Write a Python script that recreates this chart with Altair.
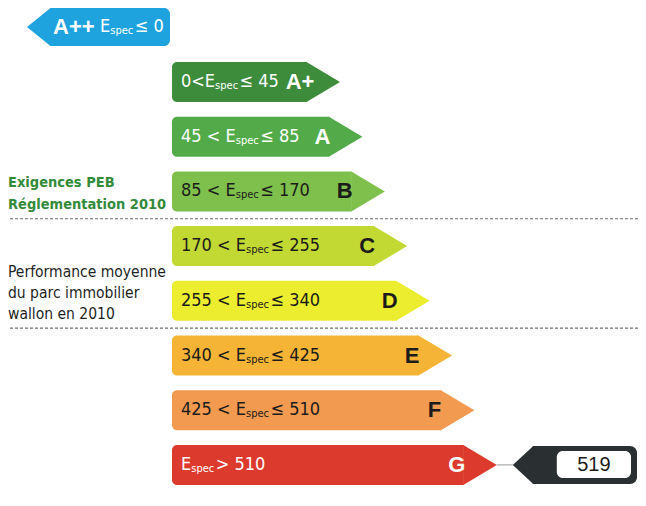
import altair as alt
import pandas as pd

# ---------------- data ----------------
classes = ["A+", "A", "B", "C", "D", "E", "F", "G"]
lower = [0, 45, 85, 170, 255, 340, 425, 510]
upper = [45, 85, 170, 255, 340, 425, 510, None]
fills = ["#3c8c3b", "#52ab48", "#7fc04c", "#c3d933", "#eced2e", "#f5b436", "#f19a50", "#dc3a2d"]
label_colors = ["#ffffff", "#ffffff", "#1b1b1b", "#1b1b1b", "#1b1b1b", "#1b1b1b", "#1b1b1b", "#ffffff"]
top_class = "A++"
top_bound = 0
top_fill = "#1ea3df"
result_value = 519
result_class = "G"
note_green = ["Exigences PEB", "Réglementation 2010"]
note_dark = ["Performance moyenne", "du parc immobilier", "wallon en 2010"]

# ---------------- layout (pixels) ----------------
W, H = 630, 490
LEFT = 172
ROW0, PITCH, BH = 62, 54.7, 40
TIP0, TIPSTEP, TIPLEN = 340, 22.4, 33
FONT_N = "DejaVu Sans Condensed, sans-serif"
FONT_B = "Liberation Sans, Arial, sans-serif"
MAIN, SUB = 18, 11

# DejaVu Sans advance widths (units/2048), condensed ~ 0.9
DW = {' ': 651, '<': 1716, '>': 1716, 'E': 1294, '\u2264': 1716, 's': 1067, 'p': 1300, 'e': 1260, 'c': 1126}
for d in "0123456789":
    DW[d] = 1303


def tw(s, size):
    return sum(DW.get(ch, 1300) for ch in s) / 2048 * 0.9 * size


rows = []
for i, c in enumerate(classes):
    top = ROW0 + PITCH * i
    tip = TIP0 + TIPSTEP * i
    if i == 0:
        pre, post = f"{lower[i]}<E", f"\u2264 {upper[i]}"
    elif upper[i] is None:
        pre, post = "E", f"> {lower[i]}"
    else:
        pre, post = f"{lower[i]} < E", f"\u2264 {upper[i]}"
    x0 = LEFT + 9
    xs = x0 + tw(pre, MAIN)
    xp = xs + tw("spec", SUB) + 1.5
    rows.append(dict(cls=c, top=top, bot=top + BH, mid=top + BH / 2, tip=tip, body=tip - TIPLEN,
                     fill=fills[i], tcol=label_colors[i], pre=pre, post=post,
                     x0=x0, xs=xs, xp=xp, xl=tip - 40))
df = pd.DataFrame(rows)

X = lambda f: alt.X(f, type="quantitative", scale=alt.Scale(domain=[0, W]), axis=None)
Y = lambda f: alt.Y(f, type="quantitative", scale=alt.Scale(domain=[0, H], reverse=True), axis=None)
off = 8  # page margin -> data coordinates are page pixels minus 8

df_s = df.copy()
for col in ["top", "bot", "mid", "tip", "body", "x0", "xs", "xp", "xl"]:
    df_s[col] = df_s[col] - off
df_s["left"] = LEFT - off

# tips as areas
tip_pts = []
for r in df_s.itertuples():
    tip_pts.append(dict(cls=r.cls, x=r.body - 0.5, y=r.top, y2=r.bot, fill=r.fill))
    tip_pts.append(dict(cls=r.cls, x=r.tip, y=r.mid, y2=r.mid, fill=r.fill))
tips = pd.DataFrame(tip_pts)

bodies = alt.Chart(df_s).mark_rect(cornerRadiusTopLeft=5, cornerRadiusBottomLeft=5).encode(
    x=X("left"), x2="body", y=Y("top"), y2="bot", fill=alt.Fill("fill:N", scale=None))
tipl = alt.Chart(tips).mark_area(orient="vertical").encode(
    x=X("x"), y=Y("y"), y2="y2", detail="cls:N", fill=alt.Fill("fill:N", scale=None))

t_pre = alt.Chart(df_s).mark_text(font=FONT_N, fontSize=MAIN, align="left", baseline="middle").encode(
    x=X("x0"), y=Y("mid"), text="pre:N", color=alt.Color("tcol:N", scale=None))
t_sub = alt.Chart(df_s).mark_text(font=FONT_N, fontSize=SUB, align="left", baseline="middle", dy=4).encode(
    x=X("xs"), y=Y("mid"), text=alt.value("spec"), color=alt.Color("tcol:N", scale=None))
t_post = alt.Chart(df_s).mark_text(font=FONT_N, fontSize=MAIN, align="left", baseline="middle").encode(
    x=X("xp"), y=Y("mid"), text="post:N", color=alt.Color("tcol:N", scale=None))
t_cls = alt.Chart(df_s).mark_text(font=FONT_B, fontSize=22, fontWeight="bold", align="center",
                                  baseline="middle").encode(
    x=X("xl"), y=Y("mid"), text="cls:N", color=alt.Color("tcol:N", scale=None))

# dashed separators (between B/C and D/E)
sep = pd.DataFrame({"y": [(df.bot[2] + df.top[3]) / 2 - off, (df.bot[4] + df.top[5]) / 2 - off],
                    "x": [5 - off] * 2, "x2": [638 - off] * 2})
seps = alt.Chart(sep).mark_rule(color="#6f6f6f", strokeDash=[3, 2], strokeWidth=1.2).encode(
    x=X("x"), x2="x2", y=Y("y"))

# A++ left-pointing arrow
app_top, app_bot = 8 - off, 46 - off
app_mid = (app_top + app_bot) / 2
app_tip, app_body, app_end = 27 - off, 50 - off, 170 - off
app_area = pd.DataFrame({"x": [app_tip, app_body + 0.5], "y": [app_mid, app_top], "y2": [app_mid, app_bot]})
app_rect = pd.DataFrame({"x": [app_body], "x2": [app_end], "y": [app_top], "y2": [app_bot]})
a1 = alt.Chart(app_area).mark_area(orient="vertical", color=top_fill).encode(x=X("x"), y=Y("y"), y2="y2")
a2 = alt.Chart(app_rect).mark_rect(color=top_fill, cornerRadiusTopRight=6, cornerRadiusBottomRight=6).encode(
    x=X("x"), x2="x2", y=Y("y"), y2="y2")
app_txt = pd.DataFrame({"x": [53 - off], "y": [app_mid], "t": [top_class]})
a3 = alt.Chart(app_txt).mark_text(font=FONT_B, fontSize=22, fontWeight="bold", align="left",
                                  baseline="middle", color="white").encode(x=X("x"), y=Y("y"), text="t:N")
ax0 = 100 - off
app_t2 = pd.DataFrame({"x": [ax0, ax0 + tw("E", MAIN), ax0 + tw("E", MAIN) + tw("spec", SUB) + 1.5],
                       "y": [app_mid] * 3, "t": ["E", "spec", f"\u2264 {top_bound}"]})
a4 = alt.Chart(app_t2[app_t2.t != "spec"]).mark_text(font=FONT_N, fontSize=MAIN, align="left",
                                                      baseline="middle", color="white").encode(
    x=X("x"), y=Y("y"), text="t:N")
a5 = alt.Chart(app_t2[app_t2.t == "spec"]).mark_text(font=FONT_N, fontSize=SUB, align="left",
                                                      baseline="middle", dy=4, color="white").encode(
    x=X("x"), y=Y("y"), text="t:N")

# result indicator
g = df_s[df_s.cls == result_class].iloc[0]
ind_tip, ind_body, ind_end = g.tip + 16, g.tip + 36, W - 1
ind_top, ind_bot = g.top + 1, g.bot - 1
conn = pd.DataFrame({"x": [g.tip], "x2": [ind_tip], "y": [g.mid]})
i1 = alt.Chart(conn).mark_rule(color="#9a9a9a", strokeWidth=1).encode(x=X("x"), x2="x2", y=Y("y"))
ind_area = pd.DataFrame({"x": [ind_tip, ind_body + 0.5], "y": [g.mid, ind_top], "y2": [g.mid, ind_bot]})
i2 = alt.Chart(ind_area).mark_area(orient="vertical", color="#2a2f31").encode(x=X("x"), y=Y("y"), y2="y2")
ind_rect = pd.DataFrame({"x": [ind_body], "x2": [ind_end], "y": [ind_top], "y2": [ind_bot]})
i3 = alt.Chart(ind_rect).mark_rect(color="#2a2f31", cornerRadiusTopRight=7, cornerRadiusBottomRight=7).encode(
    x=X("x"), x2="x2", y=Y("y"), y2="y2")
box = pd.DataFrame({"x": [ind_body + 24], "x2": [ind_end - 6], "y": [ind_top + 5], "y2": [ind_bot - 6]})
i4 = alt.Chart(box).mark_rect(color="white", cornerRadius=6).encode(x=X("x"), x2="x2", y=Y("y"), y2="y2")
val = pd.DataFrame({"x": [(ind_body + 24 + ind_end - 6) / 2], "y": [g.mid], "t": [str(result_value)]})
i5 = alt.Chart(val).mark_text(font=FONT_B, fontSize=20, align="center", baseline="middle", color="#1b1b1b").encode(
    x=X("x"), y=Y("y"), text="t:N")

# side notes
ng = pd.DataFrame({"x": [8 - off] * 2, "y": [183 - off, 205 - off], "t": note_green})
n1 = alt.Chart(ng).mark_text(font=FONT_N, fontSize=14.5, fontWeight="bold", align="left", baseline="middle",
                             color="#338a3a").encode(x=X("x"), y=Y("y"), text="t:N")
nd = pd.DataFrame({"x": [8 - off] * 3, "y": [272 - off, 293 - off, 314 - off], "t": note_dark})
n2 = alt.Chart(nd).mark_text(font=FONT_N, fontSize=15.5, align="left", baseline="middle",
                             color="#1f1f1f").encode(x=X("x"), y=Y("y"), text="t:N")

chart = alt.layer(seps, bodies, tipl, a1, a2, a3, a4, a5, i1, i2, i3, i4, i5,
                  t_pre, t_sub, t_post, t_cls, n1, n2).properties(
    width=W, height=H, padding=0, autosize=alt.AutoSizeParams(type="none"), background="white"
).configure_view(stroke=None)

chart.save("out.html", embed_options={"renderer": "svg", "actions": False})
